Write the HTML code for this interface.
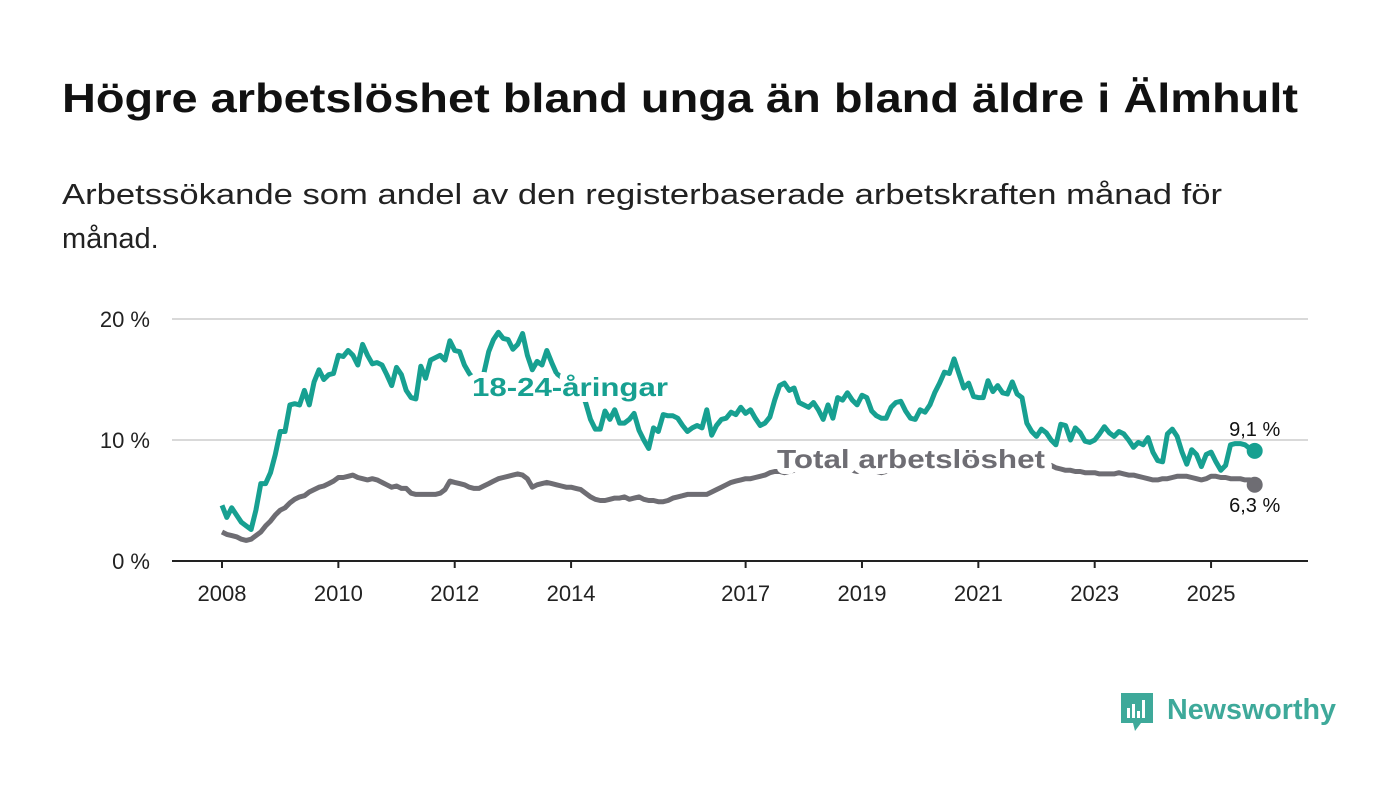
<!DOCTYPE html>
<html><head><meta charset="utf-8">
<style>
html,body{margin:0;padding:0;background:#fff;}
svg{display:block;font-family:"Liberation Sans",Arial,sans-serif;}
</style></head>
<body>
<svg id="chart" width="1400" height="794" viewBox="0 0 1400 794" xmlns="http://www.w3.org/2000/svg">
  <text x="62" y="112" font-size="41" font-weight="bold" fill="#111" textLength="1236" lengthAdjust="spacingAndGlyphs">Högre arbetslöshet bland unga än bland äldre i Älmhult</text>
  <text x="62" y="204" font-size="29" fill="#222" textLength="1160" lengthAdjust="spacingAndGlyphs">Arbetssökande som andel av den registerbaserade arbetskraften månad för</text>
  <text x="62" y="248" font-size="29" fill="#222">månad.</text>
  <g id="grid"></g>
  <g id="xaxis"></g>
  <g id="series"></g>
  <g id="labels"></g>
  <g>
    <path d="M1121 693 h32 v30 h-12 l-6 8 l-2 -8 h-12 z" fill="#3ea99a"/>
    <rect x="1127" y="708" width="3" height="10" fill="#fff"/>
    <rect x="1132" y="704" width="3" height="14" fill="#fff"/>
    <rect x="1137" y="711" width="3" height="7" fill="#fff"/>
    <rect x="1142" y="700" width="3" height="18" fill="#fff"/>
    <text x="1167" y="719" font-size="29" font-weight="bold" fill="#3ea99a" textLength="169" lengthAdjust="spacingAndGlyphs">Newsworthy</text>
  </g>
</svg>
<script>
const yTicks = [0, 10, 20];
const yTickLabels = ["0 %", "10 %", "20 %"];
const xTickYears = [2008, 2010, 2012, 2014, 2017, 2019, 2021, 2023, 2025];
const startYear = 2008;
const youth = [
4.6,3.6,4.4,3.8,3.2,2.9,2.6,4.2,6.4,6.4,
7.3,8.8,10.7,10.7,12.9,13.0,12.9,14.1,12.9,14.8,
15.8,15.0,15.4,15.5,17.0,16.9,17.4,17.0,16.2,17.9,
17.0,16.3,16.4,16.2,15.4,14.5,16.0,15.4,14.1,13.5,
13.4,16.1,15.1,16.6,16.8,17.0,16.6,18.2,17.4,17.3,
16.2,15.5,15.0,14.8,15.5,17.3,18.3,18.9,18.4,18.3,
17.5,17.9,18.8,17.0,15.8,16.5,16.2,17.4,16.4,15.5,
15.2,14.9,14.6,14.3,14.0,13.1,11.7,10.9,10.9,12.4,
11.7,12.5,11.4,11.4,11.7,12.2,10.8,10.0,9.3,11.0,
10.7,12.1,12.0,12.0,11.8,11.2,10.7,11.0,11.2,11.0,
12.5,10.4,11.2,11.7,11.8,12.3,12.1,12.7,12.2,12.5,
11.8,11.2,11.4,11.9,13.3,14.5,14.7,14.1,14.3,13.1,
12.9,12.7,13.1,12.5,11.7,12.9,11.8,13.5,13.3,13.9,
13.3,12.9,13.7,13.5,12.4,12.0,11.8,11.8,12.7,13.1,
13.2,12.4,11.8,11.7,12.5,12.3,12.9,13.9,14.7,15.6,
15.5,16.7,15.5,14.3,14.7,13.6,13.5,13.5,14.9,14.0,
14.5,13.9,13.8,14.8,13.8,13.5,11.4,10.7,10.3,10.9,
10.6,10.0,9.6,11.3,11.2,10.0,11.0,10.6,9.9,9.8,
10.0,10.5,11.1,10.6,10.3,10.7,10.5,10.0,9.4,9.8,
9.6,10.2,9.0,8.3,8.2,10.5,10.9,10.3,9.0,8.0,
9.2,8.8,7.8,8.8,9.0,8.2,7.5,7.9,9.6,9.7,
9.7,9.6,9.3,9.1];
const total = [
2.4,2.2,2.1,2.0,1.8,1.7,1.8,2.1,2.4,2.9,
3.3,3.8,4.2,4.4,4.8,5.1,5.3,5.4,5.7,5.9,
6.1,6.2,6.4,6.6,6.9,6.9,7.0,7.1,6.9,6.8,
6.7,6.8,6.7,6.5,6.3,6.1,6.2,6.0,6.0,5.6,
5.5,5.5,5.5,5.5,5.5,5.6,5.9,6.6,6.5,6.4,
6.3,6.1,6.0,6.0,6.2,6.4,6.6,6.8,6.9,7.0,
7.1,7.2,7.1,6.8,6.1,6.3,6.4,6.5,6.4,6.3,
6.2,6.1,6.1,6.0,5.9,5.6,5.3,5.1,5.0,5.0,
5.1,5.2,5.2,5.3,5.1,5.2,5.3,5.1,5.0,5.0,
4.9,4.9,5.0,5.2,5.3,5.4,5.5,5.5,5.5,5.5,
5.5,5.7,5.9,6.1,6.3,6.5,6.6,6.7,6.8,6.8,
6.9,7.0,7.1,7.3,7.4,7.4,7.3,7.4,7.5,7.6,
7.5,7.6,7.7,7.6,7.5,7.6,7.7,7.8,7.7,7.6,
7.5,7.4,7.5,7.6,7.5,7.4,7.3,7.4,7.5,7.6,
7.7,7.8,7.9,8.0,8.1,8.2,8.3,8.4,8.5,8.6,
8.6,8.7,8.6,8.5,8.5,8.4,8.4,8.3,8.3,8.2,
8.2,8.1,8.1,8.0,8.0,8.0,7.9,7.9,7.9,7.9,
7.9,7.9,7.7,7.6,7.5,7.5,7.4,7.4,7.3,7.3,
7.3,7.2,7.2,7.2,7.2,7.3,7.2,7.1,7.1,7.0,
6.9,6.8,6.7,6.7,6.8,6.8,6.9,7.0,7.0,7.0,
6.9,6.8,6.7,6.8,7.0,7.0,6.9,6.9,6.8,6.8,
6.8,6.7,6.7,6.3];
const endLabels = ["9,1 %", "6,3 %"];

const NS = "http://www.w3.org/2000/svg";
const X0 = 222, PX_PER_YEAR = 58.18, Y0 = 561, PX_PER_PCT = 12.1;
function xMonth(m){ return X0 + m * PX_PER_YEAR / 12; }
function xYear(y){ return X0 + (y - startYear) * PX_PER_YEAR; }
function yVal(v){ return Y0 - v * PX_PER_PCT; }
function mk(tag, attrs, parent){
  const e = document.createElementNS(NS, tag);
  for (const k in attrs) e.setAttribute(k, attrs[k]);
  parent.appendChild(e);
  return e;
}
const grid = document.getElementById('grid');
yTicks.forEach((t, i) => {
  if (t !== 0) {
    const l = mk('line', {x1:172, x2:1308, y1:yVal(t), y2:yVal(t), stroke:'#d9d9d9', 'stroke-width':2}, grid);
    
    
  }
  const tx = mk('text', {x:150, y:yVal(t)+8, 'font-size':22, fill:'#222', 'text-anchor':'end'}, grid);
  tx.textContent = yTickLabels[i];
  
  
});
const xa = document.getElementById('xaxis');
const base = mk('line', {x1:172, x2:1308, y1:Y0, y2:Y0, stroke:'#222', 'stroke-width':2}, xa);


xTickYears.forEach(y => {
  const tk = mk('line', {x1:xYear(y), x2:xYear(y), y1:Y0, y2:Y0+7, stroke:'#222', 'stroke-width':2}, xa);
  
  
  const tx = mk('text', {x:xYear(y), y:601, 'font-size':22, fill:'#222', 'text-anchor':'middle'}, xa);
  tx.textContent = String(y);
  
  
});
const sg = document.getElementById('series');
function pathFor(arr){ return arr.map((v,i)=>(i?'L':'M')+xMonth(i).toFixed(1)+' '+yVal(v).toFixed(1)).join(' '); }
const pt = mk('path', {d:pathFor(total), fill:'none', stroke:'#6e6d73', 'stroke-width':5, 'stroke-linejoin':'round'}, sg);


const py = mk('path', {d:pathFor(youth), fill:'none', stroke:'#17a091', 'stroke-width':5, 'stroke-linejoin':'round'}, sg);


const lastY = youth.length - 1, lastT = total.length - 1;
const dy = mk('circle', {cx:xMonth(lastY), cy:yVal(youth[lastY]), r:8, fill:'#17a091'}, sg);


const dt = mk('circle', {cx:xMonth(lastT), cy:yVal(total[lastT]), r:8, fill:'#6e6d73'}, sg);



const lg = document.getElementById('labels');
const l1 = mk('text', {x:472, y:396, 'font-size':26, 'font-weight':'bold', fill:'#17a091', stroke:'#fff', 'stroke-width':12, 'paint-order':'stroke', 'stroke-linejoin':'round', textLength:196, lengthAdjust:'spacingAndGlyphs'}, lg);
l1.textContent = '18-24-åringar';


const l2 = mk('text', {x:777, y:468, 'font-size':26, 'font-weight':'bold', fill:'#6e6d73', stroke:'#fff', 'stroke-width':12, 'paint-order':'stroke', 'stroke-linejoin':'round', textLength:268, lengthAdjust:'spacingAndGlyphs'}, lg);
l2.textContent = 'Total arbetslöshet';


const e1 = mk('text', {x:xMonth(lastY), y:yVal(youth[lastY])-15, 'font-size':20, fill:'#111', 'text-anchor':'middle'}, lg);
e1.textContent = endLabels[0];


const e2 = mk('text', {x:xMonth(lastT), y:yVal(total[lastT])+27, 'font-size':20, fill:'#111', 'text-anchor':'middle'}, lg);
e2.textContent = endLabels[1];


</script>
</body></html>
